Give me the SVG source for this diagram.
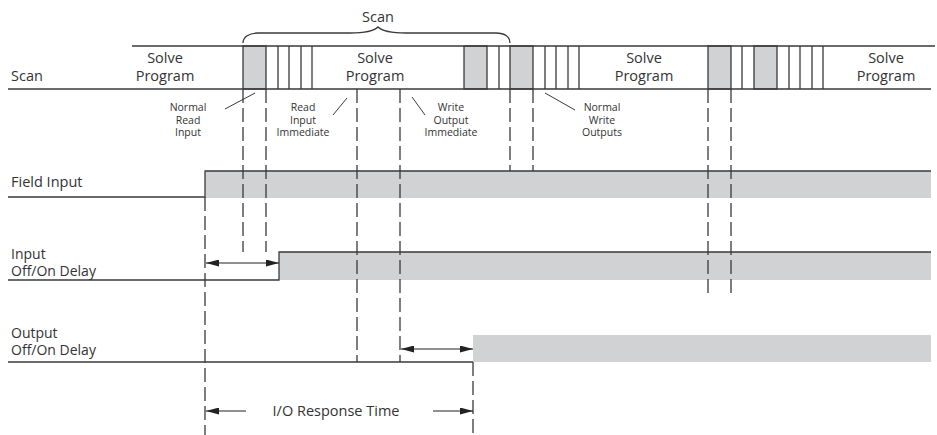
<svg xmlns="http://www.w3.org/2000/svg" width="937" height="435" viewBox="0 0 937 435">
<style>
text{font-family:"Open Sans","DejaVu Sans",sans-serif;fill:#333}
.lg{font-size:14.5px}
.md{font-size:14px}
.sm{font-size:10.5px}
.mid{text-anchor:middle}
.ln{stroke:#3a3a3a;stroke-width:1.3;fill:none}
.thin{stroke:#3a3a3a;stroke-width:1;fill:none}
.dash{stroke:#3a3a3a;stroke-width:1.3;stroke-dasharray:14 5;fill:none}
.gray{fill:#d1d2d4;stroke:none}
.box{fill:#d1d2d4;stroke:#3a3a3a;stroke-width:1.3}
.arr{stroke:#222;stroke-width:1.2;fill:none}
</style>
<defs>
<marker id="ah" viewBox="0 0 13 7" refX="13" refY="3.5" markerWidth="13" markerHeight="7" orient="auto-start-reverse" markerUnits="userSpaceOnUse"><path d="M0,0 L13,3.5 L0,7 z" fill="#222"/></marker>
</defs>

<g id="scan-bar">
<text class="lg mid" x="378" y="22">Scan</text>
<path class="ln" d="M243,43 C243,37 249,33 258,33 L350,33 C365,33 374,31 378,27 C382,31 391,33 406,33 L496,33 C505,33 510,37 510,43"/>
<text class="lg" x="11" y="81">Scan</text>
<rect class="box" x="243" y="46" width="23" height="43"/>
<rect class="box" x="464" y="46" width="23" height="43"/>
<rect class="box" x="510" y="46" width="23" height="43"/>
<rect class="box" x="708" y="46" width="23" height="43"/>
<rect class="box" x="754" y="46" width="23" height="43"/>
<path class="ln" d="M132,46 H935 M8,89 H931 M278,46 V89 M289,46 V89 M301,46 V89 M312,46 V89 M499,46 V89 M545,46 V89 M556,46 V89 M568,46 V89 M579,46 V89 M742,46 V89 M789,46 V89 M800,46 V89 M812,46 V89 M823,46 V89"/>
<text class="lg mid" y="63"><tspan x="165">Solve</tspan><tspan x="165" dy="18">Program</tspan></text>
<text class="lg mid" y="63"><tspan x="375">Solve</tspan><tspan x="375" dy="18">Program</tspan></text>
<text class="lg mid" y="63"><tspan x="644">Solve</tspan><tspan x="644" dy="18">Program</tspan></text>
<text class="lg mid" y="63"><tspan x="886">Solve</tspan><tspan x="886" dy="18">Program</tspan></text>
</g>

<g id="label-normal-read">
<text class="sm mid" y="111"><tspan x="188">Normal</tspan><tspan x="188" dy="12.5">Read</tspan><tspan x="188" dy="12.5">Input</tspan></text>
</g>
<g id="label-read-immediate">
<text class="sm mid" y="111"><tspan x="303">Read</tspan><tspan x="303" dy="12.5">Input</tspan><tspan x="303" dy="12.5">Immediate</tspan></text>
</g>
<g id="label-write-immediate">
<text class="sm mid" y="111"><tspan x="451">Write</tspan><tspan x="451" dy="12.5">Output</tspan><tspan x="451" dy="12.5">Immediate</tspan></text>
</g>
<g id="label-normal-write">
<text class="sm mid" y="111"><tspan x="602">Normal</tspan><tspan x="602" dy="12.5">Write</tspan><tspan x="602" dy="12.5">Outputs</tspan></text>
</g>

<g id="field-input">
<text class="lg" x="11" y="187">Field Input</text>
<rect class="gray" x="205" y="171" width="726" height="27"/>
<path class="ln" d="M8,197 H205 V171 H931"/>
</g>

<g id="input-delay">
<text class="md" y="259"><tspan x="11">Input</tspan><tspan x="11" dy="17">Off/On Delay</tspan></text>
<rect class="gray" x="279" y="252" width="652" height="28"/>
<path class="ln" d="M8,280 H279 V252 H931"/>
</g>

<g id="output-delay">
<text class="md" y="338"><tspan x="11">Output</tspan><tspan x="11" dy="17">Off/On Delay</tspan></text>
<rect class="gray" x="473" y="335" width="458" height="27"/>
<path class="ln" d="M8,362 H473"/>
</g>

<g id="response-label">
<text class="lg mid" x="336" y="416">I/O Response Time</text>
</g>

<g id="connectors">
<path class="dash" d="M243,89 V252 M266,89 V252"/>
<path class="dash" d="M357,89 V362 M400,89 V362"/>
<path class="dash" d="M510,89 V171 M533,89 V171"/>
<path class="dash" d="M708,89 V296 M731,89 V296"/>
<path class="dash" d="M205,197 V435"/>
<path class="dash" d="M473,362 V435"/>
<path class="thin" d="M225,109 L255,93 M333,115 L347,98 M412,97 L425,115 M545,93 L575,110"/>
<path class="arr" d="M206,263 H279" marker-start="url(#ah)" marker-end="url(#ah)"/>
<path class="arr" d="M401,349 H473" marker-start="url(#ah)" marker-end="url(#ah)"/>
<path class="arr" d="M206,411 H246" marker-start="url(#ah)"/>
<path class="arr" d="M433,411 H473" marker-end="url(#ah)"/>
</g>
</svg>
